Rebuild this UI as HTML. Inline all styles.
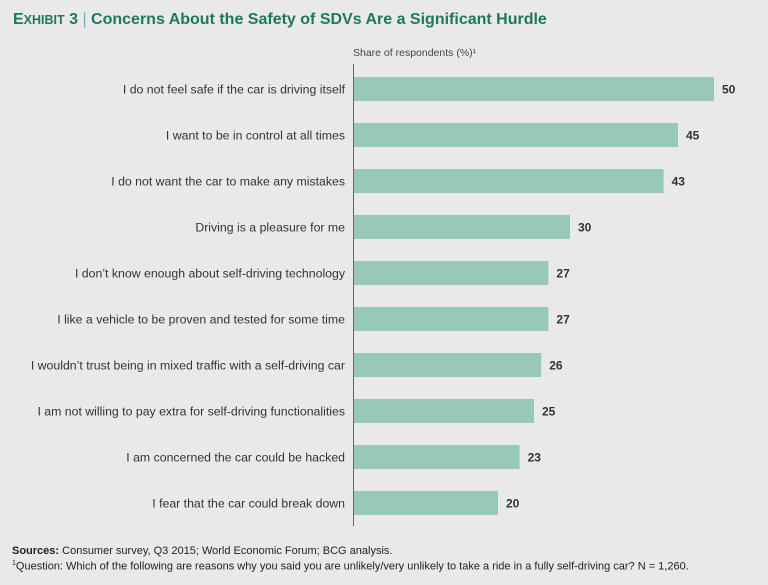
<!DOCTYPE html>
<html><head><meta charset="utf-8"><style>
body{margin:0;width:768px;height:585px;background:#e9e9eb;font-family:"Liberation Sans",sans-serif;overflow:hidden;position:relative}
#title{position:absolute;left:13px;top:11px;font-size:16px;font-weight:bold;color:#1e7a55;white-space:nowrap}
.foot{position:absolute;left:12px;font-size:11px;color:#222;white-space:nowrap}
</style></head><body>
<div id="title"><span>E<span style="font-size:12.5px">XHIBIT</span> 3</span> <span style="font-weight:normal;color:#7aa">|</span> Concerns About the Safety of SDVs Are a Significant Hurdle</div>
<svg id="chart" width="768" height="585" style="position:absolute;left:0;top:0">
<text x="353" y="56" font-size="10.5" fill="#444">Share of respondents (%)¹</text>
<line x1="353.5" y1="64" x2="353.5" y2="526" stroke="#666" stroke-width="1"/>
<g id="bars"></g>
</svg>
<div class="foot" style="top:545px"><b>Sources:</b> Consumer survey, Q3 2015; World Economic Forum; BCG analysis.</div>
<div class="foot" style="top:560px"><sup style="font-size:7px">1</sup>Question: Which of the following are reasons why you said you are unlikely/very unlikely to take a ride in a fully self-driving car? N = 1,260.</div>
<script>
const categories=["I do not feel safe if the car is driving itself","I want to be in control at all times","I do not want the car to make any mistakes","Driving is a pleasure for me","I don’t know enough about self-driving technology","I like a vehicle to be proven and tested for some time","I wouldn’t trust being in mixed traffic with a self-driving car","I am not willing to pay extra for self-driving functionalities","I am concerned the car could be hacked","I fear that the car could break down"];
const values=[50,45,43,30,27,27,26,25,23,20];
const x0=354, scale=7.2, y0=89, step=46, bh=24;
const xs=v=>x0+v*scale;
const ys=i=>y0+i*step;
const g=document.getElementById('bars');
const NS="http://www.w3.org/2000/svg";
categories.forEach((c,i)=>{
  const r=document.createElementNS(NS,'rect');
  r.setAttribute('x',x0);r.setAttribute('y',ys(i)-bh/2);
  r.setAttribute('width',xs(values[i])-x0);r.setAttribute('height',bh);
  r.setAttribute('fill','#98c9b8');
  
  
  g.appendChild(r);
  const t=document.createElementNS(NS,'text');
  t.setAttribute('x',345);t.setAttribute('y',ys(i)+4.5);
  t.setAttribute('text-anchor','end');t.setAttribute('font-size','12.3');t.setAttribute('fill','#333');
  t.textContent=c;
  
  
  g.appendChild(t);
  const v=document.createElementNS(NS,'text');
  v.setAttribute('x',xs(values[i])+8);v.setAttribute('y',ys(i)+4.5);
  v.setAttribute('font-size','12');v.setAttribute('font-weight','bold');v.setAttribute('fill','#333');
  v.textContent=values[i];
  
  
  g.appendChild(v);
});
</script>
</body></html>
